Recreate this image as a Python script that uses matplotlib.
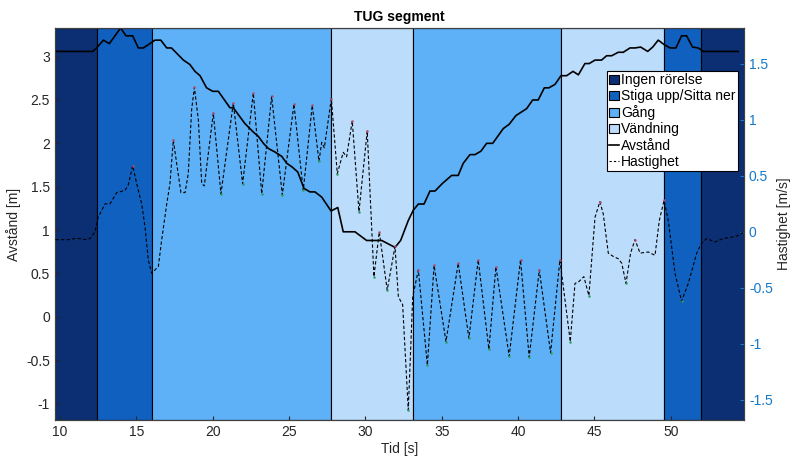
import matplotlib
matplotlib.use("Agg")
import matplotlib.pyplot as plt
from matplotlib.patches import Patch
from matplotlib.lines import Line2D

plt.rcParams['font.family'] = ['Liberation Sans', 'DejaVu Sans']

# segment borders [s] and type of each segment
seg_bounds = [9.67, 12.45, 16.0, 27.72, 33.12, 42.8, 49.55, 51.95, 54.8]
seg_types = [0, 1, 2, 3, 2, 3, 1, 0]
seg_names = ["Ingen rörelse", "Stiga upp/Sitta ner", "Gång", "Vändning"]
seg_colors = ["#0c2f73", "#1060c0", "#5eb1f7", "#bbddfb"]

# distance [m]
dist_t = [9.67, 12.14, 12.4, 12.84, 13.23, 13.97, 14.32, 14.76, 15.13, 15.46,
          16.22, 16.6, 16.99, 17.3, 18.08, 18.5, 18.84, 19.17, 19.6, 20.0,
          20.37, 21.13, 21.35, 22.1, 22.66, 22.99, 23.32, 23.65, 24.08, 24.52,
          24.85, 25.18, 25.57, 25.98, 26.37, 26.7, 27.14, 27.75, 28.19, 28.55,
          29.32, 30.08, 31.07, 31.94, 32.31, 32.81, 33.14, 33.47, 33.84, 34.23,
          34.56, 35.06, 35.65, 36.08, 36.41, 36.85, 37.18, 37.57, 37.94, 38.34,
          39.03, 39.42, 39.86, 40.56, 40.96, 41.32, 41.72, 42.02, 42.42, 42.81,
          43.18, 43.6, 43.95, 44.38, 44.66, 45.04, 45.47, 45.8, 46.13, 46.56,
          46.89, 47.33, 47.66, 48.03, 48.49, 48.82, 49.18, 49.56, 49.95, 50.34,
          50.71, 51.04, 51.43, 51.8, 52.13, 54.42]
dist_v = [3.06, 3.06, 3.10, 3.19, 3.15, 3.33, 3.24, 3.24, 3.10, 3.10,
          3.19, 3.19, 3.10, 3.10, 2.96, 2.91, 2.83, 2.78, 2.64, 2.60,
          2.60, 2.41, 2.41, 2.23, 2.13, 2.08, 2.00, 1.94, 1.90, 1.85,
          1.77, 1.73, 1.67, 1.48, 1.44, 1.44, 1.38, 1.22, 1.26, 0.98,
          0.98, 0.88, 0.88, 0.80, 0.88, 1.11, 1.23, 1.30, 1.30, 1.45,
          1.45, 1.54, 1.63, 1.63, 1.77, 1.87, 1.87, 1.91, 2.00, 2.00,
          2.17, 2.22, 2.32, 2.40, 2.50, 2.50, 2.64, 2.64, 2.68, 2.78,
          2.78, 2.83, 2.79, 2.92, 2.92, 2.96, 2.96, 3.01, 3.01, 3.05,
          3.05, 3.10, 3.10, 3.11, 3.06, 3.11, 3.19, 3.14, 3.10, 3.10,
          3.24, 3.24, 3.11, 3.10, 3.06, 3.06]

# velocity [m/s]
vel_t = [9.7, 10.55, 10.98, 11.31, 11.64, 11.96, 12.29, 12.5, 12.95, 13.27,
         13.71, 14.26, 14.47, 14.76, 15.02, 15.35, 15.57, 15.78, 16.0, 16.44,
         16.66, 16.99, 17.2, 17.42, 17.64, 17.92, 18.19, 18.4, 18.62, 18.8,
         19.06, 19.28, 19.45, 20.04, 20.54, 21.35, 21.96, 22.66, 23.21, 23.86,
         24.56, 25.32, 25.93, 26.52, 26.96, 27.14, 27.31, 27.77, 28.16, 28.55,
         28.77, 29.14, 29.58, 30.12, 30.56, 30.91, 31.43, 31.94, 32.16, 32.44,
         32.81, 33.1, 33.47, 34.06, 34.5, 35.28, 36.08, 36.78, 37.39, 38.09,
         38.55, 39.42, 40.16, 40.73, 41.39, 42.13, 42.74, 43.42, 43.73, 43.94,
         44.31, 44.64, 45.04, 45.36, 45.58, 45.91, 46.24, 46.56, 46.79, 47.07,
         47.37, 47.66, 47.99, 48.53, 48.97, 49.25, 49.56, 49.84, 50.28, 50.71,
         51.15, 51.7, 52.02, 52.35, 52.9, 53.44, 54.1, 54.5, 54.75]
vel_v = [-0.07, -0.07, -0.06, -0.06, -0.07, -0.06, 0.0, 0.13, 0.25, 0.25,
         0.35, 0.37, 0.42, 0.59, 0.43, 0.25, 0.04, -0.25, -0.37, -0.31,
         -0.07, 0.25, 0.43, 0.82, 0.61, 0.35, 0.35, 0.52, 1.09, 1.29,
         1.0, 0.43, 0.41, 1.06, 0.34, 1.15, 0.43, 1.24, 0.34, 1.21,
         0.33, 1.14, 0.37, 1.13, 0.63, 0.80, 0.75, 1.19, 0.52, 0.71,
         0.67, 0.99, 0.18, 0.90, -0.40, 0.0, -0.52, -0.13, -0.58, -0.65,
         -1.59, -0.58, -0.34, -1.19, -0.30, -0.98, -0.28, -0.95, -0.25, -1.05,
         -0.31, -1.11, -0.25, -1.12, -0.34, -1.08, -0.25, -0.98, -0.46, -0.45,
         -0.40, -0.57, 0.13, 0.27, 0.16, -0.19, -0.22, -0.24, -0.28, -0.46,
         -0.19, -0.07, -0.19, -0.18, -0.21, 0.10, 0.28, 0.10, -0.37, -0.62,
         -0.46, -0.19, -0.10, -0.06, -0.09, -0.06, -0.045, -0.03, 0.0]

txt = "#262626"
right_col = "#1479c9"

fig = plt.figure(figsize=(7.9, 4.59), dpi=100)
ax = fig.add_axes([0.0696, 0.085, 0.8722, 0.854])

for i, s in enumerate(seg_types):
    ax.axvspan(seg_bounds[i], seg_bounds[i + 1], facecolor=seg_colors[s],
               edgecolor="black", linewidth=0.8, zorder=1)

ax.plot(dist_t, dist_v, color="black", linewidth=1.2, zorder=3)
ax.set_xlim(9.67, 54.8)
ax.set_ylim(-1.19, 3.33)
ax.set_yticks([-1, -0.5, 0, 0.5, 1, 1.5, 2, 2.5, 3])
ax.set_yticklabels(["-1", "-0.5", "0", "0.5", "1", "1.5", "2", "2.5", "3"])
ax.set_xticks([10, 15, 20, 25, 30, 35, 40, 45, 50])
ax.tick_params(direction="in", length=3, labelsize=10, colors=txt)
ax.set_xlabel("Tid [s]", fontsize=10, color=txt, labelpad=2)
ax.set_ylabel("Avstånd [m]", fontsize=10, color=txt, labelpad=4)
ax.set_title("TUG segment", fontsize=10, fontweight="bold", color="black", pad=5)

ax2 = ax.twinx()
ax2.plot(vel_t, vel_v, color="black", linewidth=0.8, linestyle=(0, (3, 2)), zorder=3)
# small peak / valley markers (only clear turns)
for i in range(1, len(vel_v) - 1):
    d1 = vel_v[i] - vel_v[i - 1]
    d2 = vel_v[i] - vel_v[i + 1]
    if d1 > 0.1 and d2 > 0.1:
        ax2.plot(vel_t[i], vel_v[i], ".", color="#b04a6a", markersize=1.6, zorder=4)
    elif d1 < -0.1 and d2 < -0.1:
        ax2.plot(vel_t[i], vel_v[i], ".", color="#2f9a60", markersize=1.6, zorder=4)
ax2.set_ylim(-1.68, 1.82)
ax2.set_yticks([-1.5, -1, -0.5, 0, 0.5, 1, 1.5])
ax2.set_yticklabels(["-1.5", "-1", "-0.5", "0", "0.5", "1", "1.5"])
ax2.tick_params(direction="in", length=3, labelsize=10, colors=right_col)
ax2.set_ylabel("Hastighet [m/s]", fontsize=10, color=txt, labelpad=3)

for a in (ax, ax2):
    for sp in a.spines.values():
        sp.set_color("#404040")
        sp.set_linewidth(0.8)

handles = [Patch(facecolor=c, edgecolor="black", linewidth=0.8) for c in seg_colors]
handles.append(Line2D([], [], color="black", linewidth=1.2))
handles.append(Line2D([], [], color="black", linewidth=0.8, linestyle=(0, (2, 2))))
labels = seg_names + ["Avstånd", "Hastighet"]
leg = ax2.legend(handles, labels, loc="upper right", bbox_to_anchor=(0.991, 0.89),
                 borderaxespad=0, fontsize=10, fancybox=False, framealpha=1,
                 edgecolor="black", handlelength=0.7, handleheight=0.6,
                 handletextpad=0.15, borderpad=0.15, labelspacing=0.15)
leg.get_frame().set_linewidth(0.8)

fig.savefig("out.png", dpi=100)
